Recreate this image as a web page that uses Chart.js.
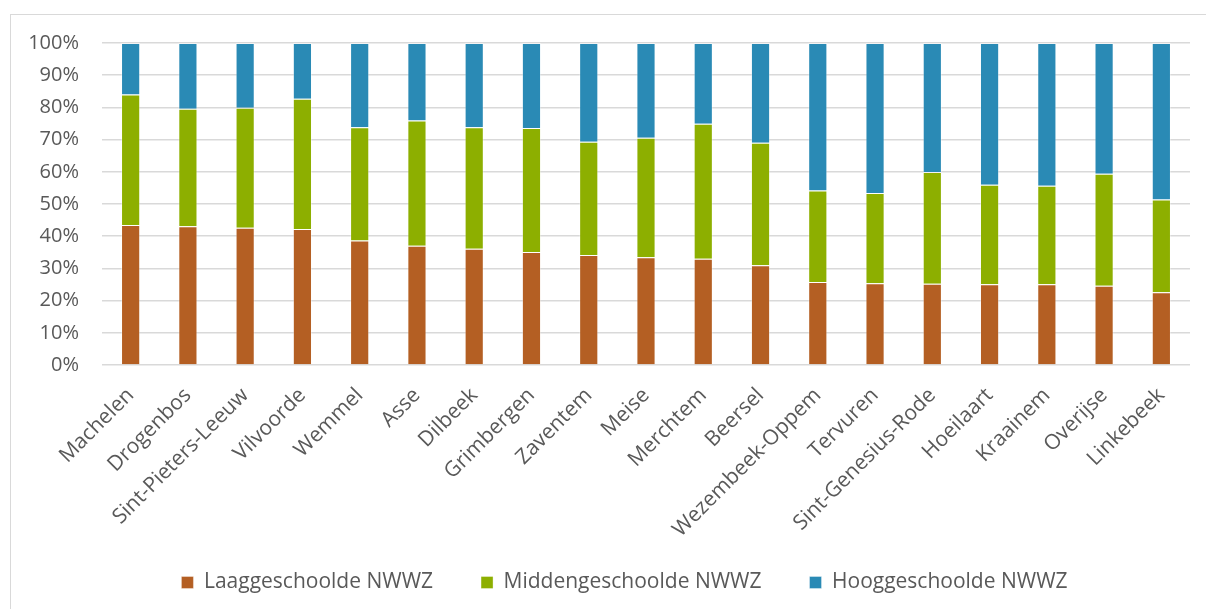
<!DOCTYPE html>
<html>
<head>
<meta charset="utf-8">
<script src="https://cdn.jsdelivr.net/npm/chart.js@4.4.0/dist/chart.umd.min.js"></script>
<style>
  html, body { margin: 0; padding: 0; background: #fff; overflow: hidden; }
  #frame { position: absolute; left: 10px; top: 14px; width: 1210px; height: 610px; border: 1px solid #d9d9d9; }
  #wrap { position: absolute; left: 11px; top: 15px; width: 1195px; height: 594px; }
</style>
</head>
<body>
<div id="frame"></div>
<div id="wrap"><canvas id="chart"></canvas></div>
<script>
var gemeenten = ['Machelen', 'Drogenbos', 'Sint-Pieters-Leeuw', 'Vilvoorde', 'Wemmel', 'Asse', 'Dilbeek',
  'Grimbergen', 'Zaventem', 'Meise', 'Merchtem', 'Beersel', 'Wezembeek-Oppem', 'Tervuren',
  'Sint-Genesius-Rode', 'Hoeilaart', 'Kraainem', 'Overijse', 'Linkebeek'];

var laag   = [43.5, 43.1, 42.6, 42.2, 38.7, 37.0, 36.1, 35.1, 34.2, 33.5, 33.0, 31.0, 25.8, 25.4, 25.2, 25.1, 25.1, 24.6, 22.6];
var midden = [40.5, 36.5, 37.3, 40.5, 35.1, 38.9, 37.7, 38.5, 35.1, 37.1, 41.9, 38.0, 28.4, 28.0, 34.7, 30.9, 30.6, 34.8, 28.8];
var hoog   = [16.0, 20.4, 20.1, 17.3, 26.2, 24.1, 26.2, 26.4, 30.7, 29.4, 25.1, 31.0, 45.8, 46.6, 40.1, 44.0, 44.3, 40.6, 48.6];

var yTicks = [0, 10, 20, 30, 40, 50, 60, 70, 80, 90, 100];

Chart.defaults.font.family = '"Open Sans", sans-serif';
Chart.defaults.font.size = 20;
Chart.defaults.color = '#595959';

function serie(label, data, kleur) {
  return {
    label: label,
    data: data,
    backgroundColor: kleur,
    borderColor: 'rgba(255,255,255,0.35)',
    borderWidth: 1,
    barPercentage: 0.335,
    categoryPercentage: 1
  };
}

// legend: centre without the trailing item padding
var legendShift = {
  id: 'legendShift',
  afterLayout: function (chart) {
    chart.legend.left += 24;
    chart.legend.right += 24;
  }
};

var ctx = document.getElementById('chart').getContext('2d');
var chart = new Chart(ctx, {
  type: 'bar',
  data: {
    labels: gemeenten,
    datasets: [
      serie('Laaggeschoolde NWWZ', laag, '#b45f23'),
      serie('Middengeschoolde NWWZ', midden, '#8daf00'),
      serie('Hooggeschoolde NWWZ', hoog, '#2a8ab5')
    ]
  },
  plugins: [legendShift],
  options: {
    responsive: true,
    maintainAspectRatio: false,
    animation: false,
    layout: { padding: { top: 28, right: 16, bottom: 6, left: 0 } },
    plugins: {
      tooltip: { enabled: false },
      legend: {
        position: 'bottom',
        labels: { boxWidth: 12, boxHeight: 12, padding: 48, color: '#595959', font: { size: 21 } }
      }
    },
    scales: {
      x: {
        stacked: true,
        grid: { display: false },
        border: { display: false },
        ticks: { minRotation: 45, maxRotation: 45, padding: 10, autoSkip: false, font: { size: 21 } },
        afterFit: function (scale) {
          scale.height = 159;
          scale._computeLabelArea = function () { return undefined; };
        }
      },
      y: {
        stacked: true,
        min: 0,
        max: 100,
        afterBuildTicks: function (scale) {
          scale.ticks = yTicks.map(function (v) { return { value: v }; });
        },
        ticks: {
          padding: 23,
          callback: function (v) { return v + '%'; }
        },
        grid: { color: '#d9d9d9', lineWidth: 1.5, drawTicks: false },
        border: { display: false },
        afterFit: function (scale) {
          scale.width = 91;
          scale.paddingTop = 0;
          scale.paddingBottom = 0;
        }
      }
    }
  }
});
</script>
</body>
</html>
